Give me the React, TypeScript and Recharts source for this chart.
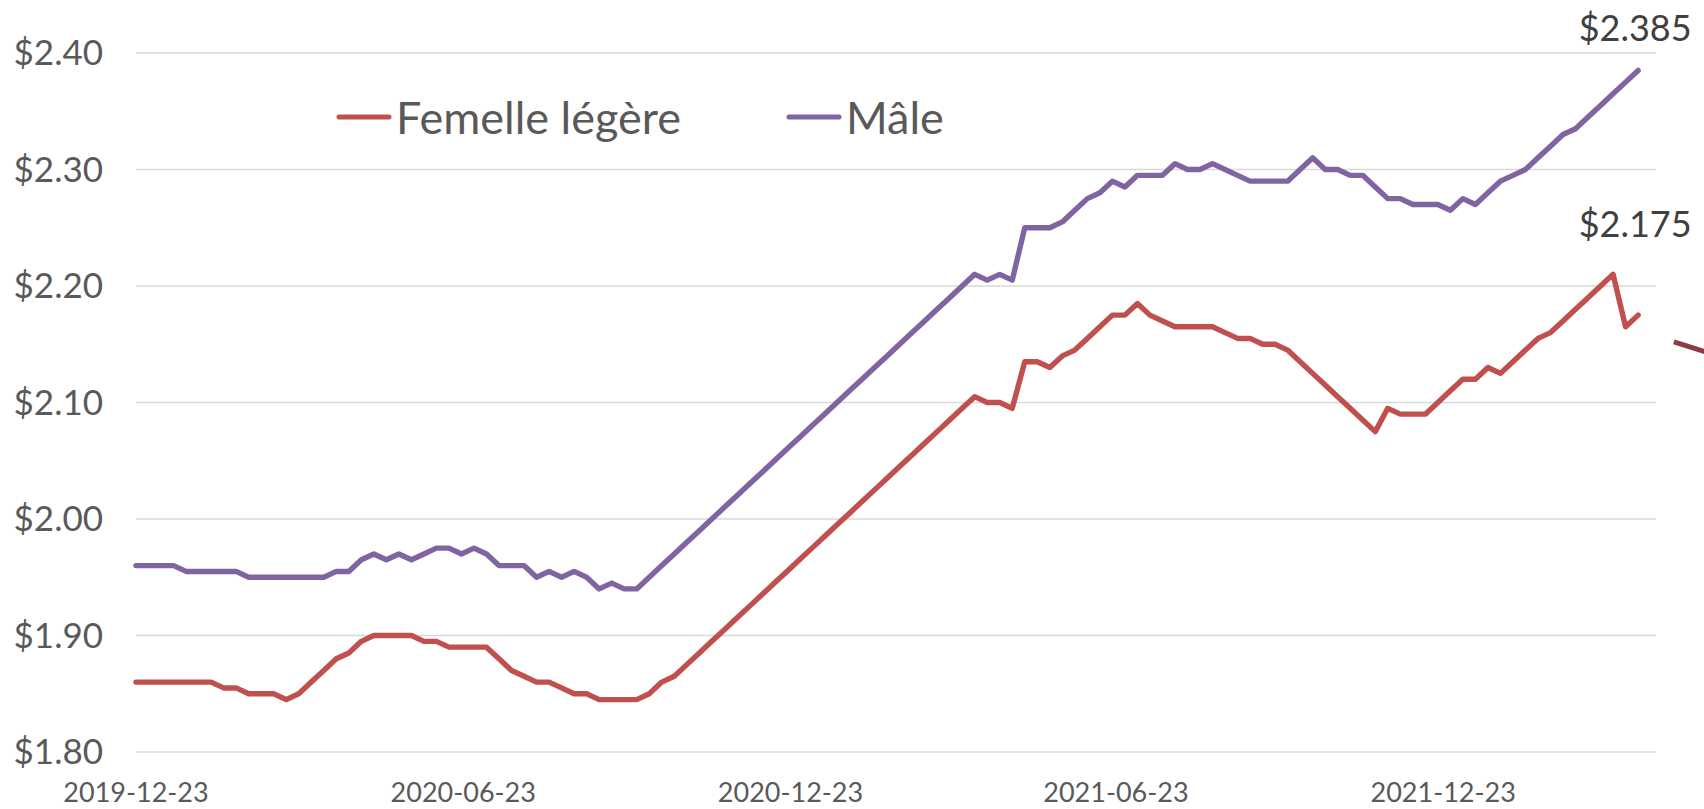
import React from "react";
import {
  LineChart,
  Line,
  XAxis,
  YAxis,
  CartesianGrid,
  Legend,
  LabelList,
  ReferenceLine,
} from "recharts";

const START = "2019-12-23";
const tickLabels = ["2019-12-23", "2020-06-23", "2020-12-23", "2021-06-23", "2021-12-23"];
const yTicks = [1.8, 1.9, 2.0, 2.1, 2.2, 2.3, 2.4];

const femelle = [
  1.86, 1.86, 1.86, 1.86, 1.86, 1.86, 1.86, 1.855, 1.855, 1.85,
  1.85, 1.85, 1.845, 1.85, 1.86, 1.87, 1.88, 1.885, 1.895, 1.9,
  1.9, 1.9, 1.9, 1.895, 1.895, 1.89, 1.89, 1.89, 1.89, 1.88,
  1.87, 1.865, 1.86, 1.86, 1.855, 1.85, 1.85, 1.845, 1.845, 1.845,
  1.845, 1.85, 1.86, 1.865, 1.875, 1.885, 1.895, 1.905, 1.915, 1.925,
  1.935, 1.945, 1.955, 1.965, 1.975, 1.985, 1.995, 2.005, 2.015, 2.025,
  2.035, 2.045, 2.055, 2.065, 2.075, 2.085, 2.095, 2.105, 2.1, 2.1,
  2.095, 2.135, 2.135, 2.13, 2.14, 2.145, 2.155, 2.165, 2.175, 2.175,
  2.185, 2.175, 2.17, 2.165, 2.165, 2.165, 2.165, 2.16, 2.155, 2.155,
  2.15, 2.15, 2.145, 2.135, 2.125, 2.115, 2.105, 2.095, 2.085, 2.075,
  2.095, 2.09, 2.09, 2.09, 2.1, 2.11, 2.12, 2.12, 2.13, 2.125,
  2.135, 2.145, 2.155, 2.16, 2.17, 2.18, 2.19, 2.2, 2.21, 2.165,
  2.175,
];

const male = [
  1.96, 1.96, 1.96, 1.96, 1.955, 1.955, 1.955, 1.955, 1.955, 1.95,
  1.95, 1.95, 1.95, 1.95, 1.95, 1.95, 1.955, 1.955, 1.965, 1.97,
  1.965, 1.97, 1.965, 1.97, 1.975, 1.975, 1.97, 1.975, 1.97, 1.96,
  1.96, 1.96, 1.95, 1.955, 1.95, 1.955, 1.95, 1.94, 1.945, 1.94,
  1.94, 1.95, 1.96, 1.97, 1.98, 1.99, 2.0, 2.01, 2.02, 2.03,
  2.04, 2.05, 2.06, 2.07, 2.08, 2.09, 2.1, 2.11, 2.12, 2.13,
  2.14, 2.15, 2.16, 2.17, 2.18, 2.19, 2.2, 2.21, 2.205, 2.21,
  2.205, 2.25, 2.25, 2.25, 2.255, 2.265, 2.275, 2.28, 2.29, 2.285,
  2.295, 2.295, 2.295, 2.305, 2.3, 2.3, 2.305, 2.3, 2.295, 2.29,
  2.29, 2.29, 2.29, 2.3, 2.31, 2.3, 2.3, 2.295, 2.295, 2.285,
  2.275, 2.275, 2.27, 2.27, 2.27, 2.265, 2.275, 2.27, 2.28, 2.29,
  2.295, 2.3, 2.31, 2.32, 2.33, 2.335, 2.345, 2.355, 2.365, 2.375,
  2.385,
];

const DAY_MS = 86400000;
const dayOf = (d: string) => Math.round((Date.parse(d) - Date.parse(START)) / DAY_MS);
const tickDays = tickLabels.map(dayOf);

// weekly observations
const data = femelle.map((f, i) => ({ day: i * 7, femelle: f, male: male[i] }));

const FONT = "Lato, 'Open Sans', sans-serif";
const RED = "#C0504D";
const PURPLE = "#8064A2";

const makeLastLabel = (dy: number) => (props: any) => {
  const { x, y, index, value } = props;
  if (index !== data.length - 1) return null;
  return (
    <text
      x={x - 3}
      y={y + dy}
      textAnchor="middle"
      fontFamily={FONT}
      fontSize={36}
      fill="#404040"
    >
      {`$${Number(value).toFixed(3)}`}
    </text>
  );
};

const LegendContent = (props: any) => {
  const { payload } = props;
  return (
    <div style={{ display: "flex", alignItems: "center", fontFamily: FONT }}>
      {(payload || []).map((p: any, i: number) => (
        <div
          key={i}
          style={{ display: "flex", alignItems: "center", marginRight: i === 0 ? 105 : 0 }}
        >
          <svg width={56} height={10} style={{ display: "block" }}>
            <line x1={3} y1={5} x2={53} y2={5} stroke={p.color} strokeWidth={5} strokeLinecap="round" />
          </svg>
          <span style={{ fontSize: 45, color: "#595959", marginLeft: 4, lineHeight: "50px" }}>
            {p.value}
          </span>
        </div>
      ))}
    </div>
  );
};

export default function App() {
  return (
    <div style={{ position: "absolute", left: 0, top: 0, width: 1704, height: 809, background: "#fff" }}>
      <LineChart
        width={1704}
        height={809}
        data={data}
        margin={{ top: 53, right: 48, bottom: 0, left: 0 }}
        style={{ fontFamily: FONT }}
      >
        <CartesianGrid vertical={false} stroke="#D9D9D9" strokeWidth={1.4} />
        <XAxis
          type="number"
          dataKey="day"
          domain={[0, 850]}
          ticks={tickDays}
          tickFormatter={(v: number) => tickLabels[tickDays.indexOf(v)] ?? ""}
          axisLine={false}
          tickLine={false}
          tickSize={0}
          tickMargin={31}
          height={57}
          interval={0}
          tick={{ fontSize: 27, fill: "#595959", fontFamily: FONT }}
        />
        <YAxis
          domain={[1.8, 2.4]}
          ticks={yTicks}
          tickFormatter={(v: number) => `$${v.toFixed(2)}`}
          axisLine={false}
          tickLine={false}
          tickSize={0}
          tickMargin={33}
          width={136}
          interval={0}
          tick={{ fontSize: 35, fill: "#595959", fontFamily: FONT }}
        />
        <Legend
          layout="horizontal"
          verticalAlign="middle"
          align="center"
          wrapperStyle={{ top: 92, left: 336, width: 800 }}
          content={<LegendContent />}
        />
        <ReferenceLine
          segment={[
            { x: 860, y: 2.152 },
            { x: 885, y: 2.14 },
          ]}
          ifOverflow="visible"
          stroke="#8E3B46"
          strokeWidth={5}
        />
        <Line
          type="linear"
          dataKey="femelle"
          name="Femelle légère"
          stroke={RED}
          strokeWidth={5.4}
          dot={false}
          activeDot={false}
          strokeLinejoin="round"
          strokeLinecap="round"
          isAnimationActive={false}
        >
          <LabelList dataKey="femelle" content={makeLastLabel(-78)} />
        </Line>
        <Line
          type="linear"
          dataKey="male"
          name="Mâle"
          stroke={PURPLE}
          strokeWidth={5.4}
          dot={false}
          activeDot={false}
          strokeLinejoin="round"
          strokeLinecap="round"
          isAnimationActive={false}
        >
          <LabelList dataKey="male" content={makeLastLabel(-29)} />
        </Line>
      </LineChart>
    </div>
  );
}
